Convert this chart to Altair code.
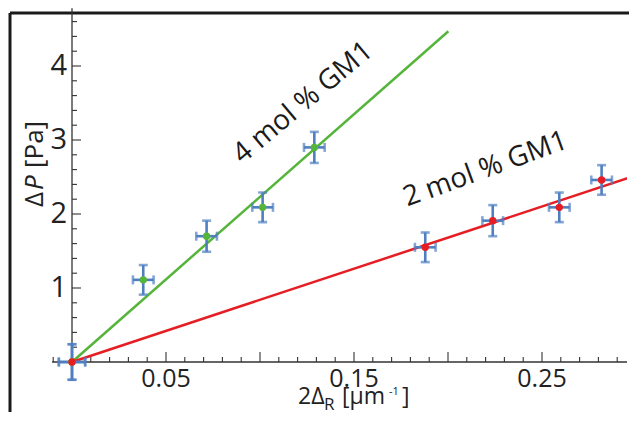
import altair as alt
import pandas as pd

# ---------------- data ----------------
series_4_x = [0.0, 0.0379, 0.0716, 0.1014, 0.1289]
series_4_y = [0.0, 1.11, 1.70, 2.09, 2.90]
series_4_xerr = [0.007, 0.0055, 0.0055, 0.0055, 0.0055]
series_4_yerr = [0.24, 0.20, 0.21, 0.20, 0.21]
series_2_x = [0.0, 0.1879, 0.2238, 0.2592, 0.2817]
series_2_y = [0.0, 1.55, 1.91, 2.09, 2.46]
series_2_xerr = [0.007, 0.0055, 0.0055, 0.0055, 0.0055]
series_2_yerr = [0.24, 0.20, 0.21, 0.20, 0.20]
fit_4_x = [0.0, 0.2002]
fit_4_y = [0.0, 4.47]
fit_2_x = [0.0, 0.2963]
fit_2_y = [0.0, 2.49]
x_tick_labels = [0.05, 0.15, 0.25]
x_tick_texts = ["0.05", "0.15", "0.25"]
x_major_ticks = [0.05, 0.10, 0.15, 0.20, 0.25]
x_minor_ticks = [-0.01, 0.01, 0.02, 0.03, 0.04, 0.06, 0.07, 0.08, 0.09,
                 0.11, 0.12, 0.13, 0.14, 0.16, 0.17, 0.18, 0.19,
                 0.21, 0.22, 0.23, 0.24, 0.26, 0.27, 0.28, 0.29]
y_tick_labels = [1, 2, 3, 4]
y_minor_ticks = [0.2, 0.4, 0.6, 0.8, 1.2, 1.4, 1.6, 1.8, 2.2, 2.4, 2.6, 2.8,
                 3.2, 3.4, 3.6, 3.8, 4.2, 4.4, 4.6]
label_texts = ["4 mol % GM1", "2 mol % GM1"]
label_x = [0.1230, 0.2200]
label_y = [3.50, 2.60]
label_angle = [320, 340]

# ---------------- styling ----------------
W, H = 621, 404
FONT = "Open Sans"
GREEN = "#55b43a"
RED = "#e61e24"
BLUE = "#4f7fc0"
FRAME = "#1a1a1a"
AX = "#333333"
TXT = "#222222"

xs = alt.Scale(domain=[-64 / 1880, (W - 64) / 1880], nice=False, zero=False)
ys = alt.Scale(domain=[(354 - H) / 74, 354 / 74], nice=False, zero=False)

def X(f):
    return alt.X(f, type="quantitative", scale=xs, axis=None)

def Y(f):
    return alt.Y(f, type="quantitative", scale=ys, axis=None)

one = pd.DataFrame({"a": [0]})
frame_top = alt.Chart(one).mark_rule(color=FRAME, strokeWidth=3).encode(
    x=alt.value(2), x2=alt.value(W), y=alt.value(5))
frame_left = alt.Chart(one).mark_rule(color=FRAME, strokeWidth=3).encode(
    x=alt.value(2), y=alt.value(5), y2=alt.value(H))
xaxis = alt.Chart(pd.DataFrame({"x": [-0.0106], "x2": [0.2963], "y": [0.0]})).mark_rule(
    color=AX, strokeWidth=1.3).encode(x=X("x"), x2="x2", y=Y("y"))
yaxis = alt.Chart(pd.DataFrame({"x": [0.0], "y": [-0.25], "y2": [4.78]})).mark_rule(
    color=AX, strokeWidth=1.3).encode(x=X("x"), y=Y("y"), y2="y2")
xmaj = pd.DataFrame({"x": x_major_ticks}); xmaj["y0"] = 0.0; xmaj["y1"] = 10 / 74
xmin = pd.DataFrame({"x": x_minor_ticks}); xmin["y0"] = 0.0; xmin["y1"] = 5 / 74
xticks = alt.Chart(pd.concat([xmaj, xmin])).mark_rule(color=AX, strokeWidth=1.1).encode(
    x=X("x"), y=Y("y0"), y2="y1")
ymaj = pd.DataFrame({"y": [float(v) for v in y_tick_labels]}); ymaj["x0"] = 0.0; ymaj["x1"] = 9 / 1880
ymin = pd.DataFrame({"y": y_minor_ticks}); ymin["x0"] = 0.0; ymin["x1"] = 5 / 1880
yticks = alt.Chart(pd.concat([ymaj, ymin])).mark_rule(color=AX, strokeWidth=1.1).encode(
    x=X("x0"), x2="x1", y=Y("y"))
xl = pd.DataFrame({"x": x_tick_labels, "t": x_tick_texts}); xl["y"] = 0.0
xlabels = alt.Chart(xl).mark_text(font=FONT, fontSize=25, color=TXT, align="center",
                                  baseline="alphabetic", dy=25).encode(x=X("x"), y=Y("y"), text="t:N")
yl = pd.DataFrame({"y": y_tick_labels, "t": [str(v) for v in y_tick_labels]}); yl["x"] = 0.0
ylabels = alt.Chart(yl).mark_text(font=FONT, fontSize=29, color=TXT, align="right",
                                  baseline="middle", dx=-5).encode(x=X("x"), y=Y("y"), text="t:N")
fit4 = alt.Chart(pd.DataFrame({"x": fit_4_x, "y": fit_4_y})).mark_line(
    color=GREEN, strokeWidth=2.5).encode(x=X("x"), y=Y("y"))
fit2 = alt.Chart(pd.DataFrame({"x": fit_2_x, "y": fit_2_y})).mark_line(
    color=RED, strokeWidth=2.5).encode(x=X("x"), y=Y("y"))

def err_df(xv, yv, xe, ye):
    d = pd.DataFrame({"x": xv, "y": yv, "xe": xe, "ye": ye})
    d["xlo"] = d["x"] - d["xe"]; d["xhi"] = d["x"] + d["xe"]
    d["ylo"] = d["y"] - d["ye"]; d["yhi"] = d["y"] + d["ye"]
    return d

ed = pd.concat([err_df(series_4_x, series_4_y, series_4_xerr, series_4_yerr),
                err_df(series_2_x, series_2_y, series_2_xerr, series_2_yerr)])
vbar = alt.Chart(ed).mark_rule(color=BLUE, strokeWidth=2.6).encode(x=X("x"), y=Y("ylo"), y2="yhi")
hbar = alt.Chart(ed).mark_rule(color=BLUE, strokeWidth=2.6).encode(x=X("xlo"), x2="xhi", y=Y("y"))
vcap_lo = alt.Chart(ed).mark_tick(color=BLUE, orient="horizontal", size=9, thickness=2.6).encode(x=X("x"), y=Y("ylo"))
vcap_hi = alt.Chart(ed).mark_tick(color=BLUE, orient="horizontal", size=9, thickness=2.6).encode(x=X("x"), y=Y("yhi"))
hcap_lo = alt.Chart(ed).mark_tick(color=BLUE, orient="vertical", size=9, thickness=2.6).encode(x=X("xlo"), y=Y("y"))
hcap_hi = alt.Chart(ed).mark_tick(color=BLUE, orient="vertical", size=9, thickness=2.6).encode(x=X("xhi"), y=Y("y"))
pts4 = alt.Chart(pd.DataFrame({"x": series_4_x, "y": series_4_y})).mark_circle(
    color=GREEN, size=55, opacity=1).encode(x=X("x"), y=Y("y"))
pts2 = alt.Chart(pd.DataFrame({"x": series_2_x, "y": series_2_y})).mark_circle(
    color=RED, size=55, opacity=1).encode(x=X("x"), y=Y("y"))
lab_layers = []
for t, lx, ly, a in zip(label_texts, label_x, label_y, label_angle):
    lab_layers.append(alt.Chart(pd.DataFrame({"x": [lx], "y": [ly], "t": [t]})).mark_text(
        font=FONT, fontSize=28, color=FRAME, align="center", baseline="middle", angle=a
    ).encode(x=X("x"), y=Y("y"), text="t:N"))

def txt(s, x, y, size, angle=0, style="normal", align="left", baseline="alphabetic"):
    return alt.Chart(one).mark_text(font=FONT, fontSize=size, color=TXT, align=align,
                                    baseline=baseline, angle=angle, fontStyle=style,
                                    text=s).encode(x=alt.value(x), y=alt.value(y))

ytitle = [txt("Δ", 35, 199, 26, angle=270), txt("P", 35, 182, 26, angle=270, style="italic"),
          txt("[Pa]", 35, 160, 26, angle=270)]
xtitle = [txt("2Δ", 290, 396, 23), txt("R", 316, 402, 17), txt("[μm", 334, 396, 23),
          txt("-1", 381, 387, 11), txt("]", 394, 396, 23)]

# white strip over the far right edge so nothing stray shows there
edge_cover = alt.Chart(one).mark_rule(color="white", strokeWidth=4).encode(
    x=alt.value(W), y=alt.value(8), y2=alt.value(H))

chart = alt.layer(
    frame_top, frame_left, xaxis, yaxis, xticks, yticks, xlabels, ylabels,
    fit4, fit2, vbar, hbar, vcap_lo, vcap_hi, hcap_lo, hcap_hi, pts4, pts2,
    *lab_layers, *ytitle, *xtitle, edge_cover
).properties(
    width=W, height=H, padding=0, background="white",
    autosize=alt.AutoSizeParams(type="none")
).configure_view(stroke=None, strokeWidth=0)

chart.save("out.html", embed_options={"renderer": "svg", "actions": False})
